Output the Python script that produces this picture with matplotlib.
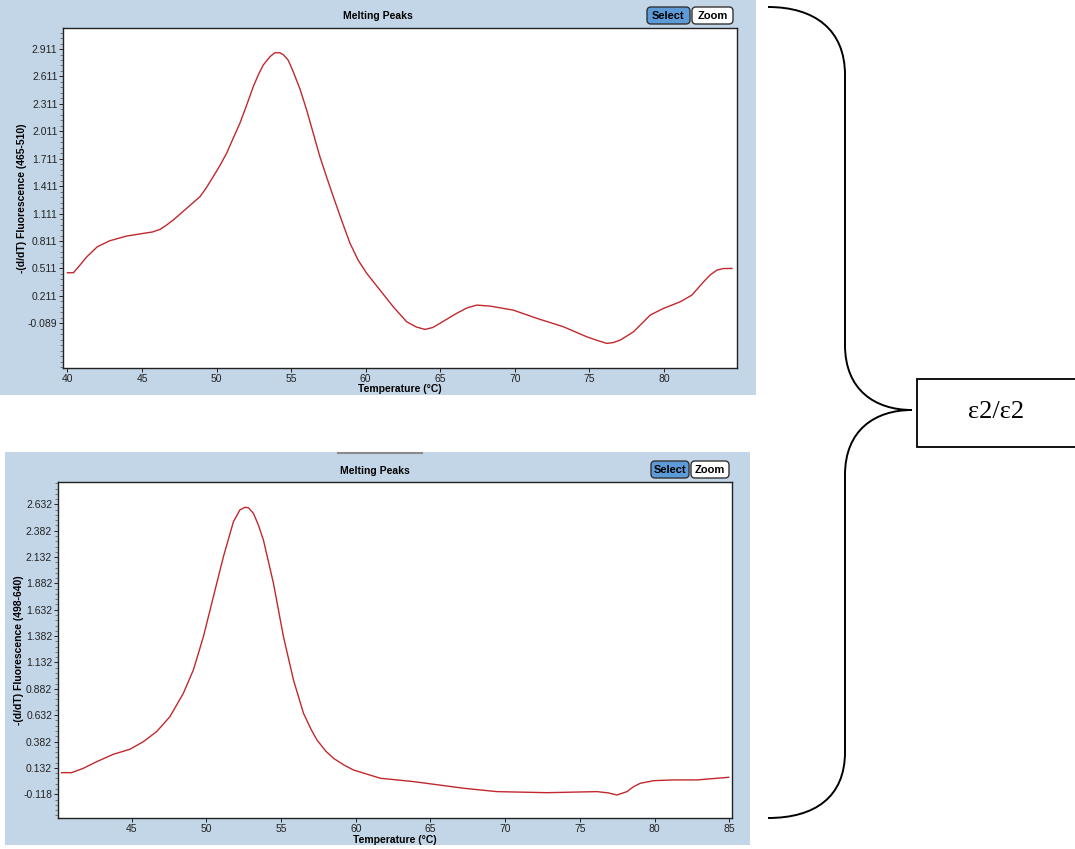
import matplotlib.pyplot as plt
import numpy as np
from matplotlib.patches import Rectangle, FancyBboxPatch, PathPatch
from matplotlib.path import Path
from matplotlib.ticker import FixedLocator, AutoMinorLocator

plt.rcParams['font.family'] = ['Liberation Sans', 'DejaVu Sans']

# top curve: channel 465-510
temp_top = [40.0, 40.4, 40.8, 41.3, 42.0, 42.84, 43.96, 45.07, 45.7, 46.2, 46.6, 47.09,
            47.99, 48.88, 49.3, 49.77, 50.2, 50.67, 51.1, 51.56, 52.0, 52.46, 52.8,
            53.13, 53.58, 53.9, 54.25, 54.5, 54.8, 55.14, 55.6, 56.04, 56.5, 56.93,
            57.4, 57.83, 58.4, 58.95, 59.5, 60.07, 60.96, 61.85, 62.75, 63.4, 63.98,
            64.5, 64.98, 66.1, 66.8, 67.45, 68.34, 69.9, 71.48, 73.26, 74.83, 75.6,
            76.17, 76.6, 77.07, 77.96, 79.08, 79.97, 81.09, 81.88, 82.66, 83.1, 83.56,
            84.0, 84.56]
fluor_top = [0.464, 0.464, 0.54, 0.639, 0.748, 0.814, 0.865, 0.894, 0.91, 0.938, 0.98, 1.04,
             1.168, 1.295, 1.39, 1.514, 1.63, 1.77, 1.93, 2.098, 2.29, 2.499, 2.63,
             2.736, 2.827, 2.87, 2.87, 2.845, 2.79, 2.663, 2.47, 2.244, 1.98, 1.733,
             1.5, 1.295, 1.03, 0.785, 0.6, 0.457, 0.274, 0.091, -0.073, -0.13, -0.156,
             -0.135, -0.089, 0.02, 0.08, 0.11, 0.099, 0.055, -0.035, -0.127, -0.237, -0.28,
             -0.309, -0.3, -0.273, -0.182, 0.001, 0.074, 0.146, 0.22, 0.365, 0.44, 0.493,
             0.51, 0.511]

# bottom curve: channel 498-640
temp_bot = [40.31, 40.98, 41.76, 42.66, 43.77, 44.89, 45.78, 46.67, 47.56, 48.46, 49.13,
            49.8, 50.47, 51.14, 51.81, 52.25, 52.59, 52.81, 53.15, 53.48, 53.82, 54.49,
            55.16, 55.83, 56.5, 57.0, 57.4, 58.0, 58.51, 59.2, 59.85, 61.64, 63.87,
            67.22, 69.45, 72.8, 76.14, 76.9, 77.48, 78.15, 78.6, 79.04, 79.94, 81.28,
            82.84, 84.96]
fluor_bot = [0.087, 0.087, 0.128, 0.191, 0.261, 0.309, 0.381, 0.476, 0.618, 0.84, 1.061,
             1.376, 1.756, 2.135, 2.467, 2.58, 2.604, 2.6, 2.547, 2.436, 2.293, 1.883,
             1.376, 0.966, 0.65, 0.5, 0.397, 0.29, 0.223, 0.16, 0.112, 0.034, 0.002,
             -0.061, -0.093, -0.103, -0.093, -0.105, -0.125, -0.093, -0.045, -0.014, 0.011, 0.018,
             0.018, 0.043]

yticks_top = [-0.089, 0.211, 0.511, 0.811, 1.111, 1.411, 1.711, 2.011, 2.311, 2.611, 2.911]
yticks_bot = [-0.118, 0.132, 0.382, 0.632, 0.882, 1.132, 1.382, 1.632, 1.882, 2.132, 2.382, 2.632]
xticks_top = [40, 45, 50, 55, 60, 65, 70, 75, 80]
xticks_bot = [45, 50, 55, 60, 65, 70, 75, 80, 85]

W, H = 1075, 849
fig = plt.figure(figsize=(W / 100, H / 100), dpi=100)
fig.patch.set_facecolor('white')

panel_blue = '#c3d6e7'
line_red = '#c0282d'


def fr(x0, y0, x1, y1):
    # pixel box (top-left origin) -> figure fraction [l, b, w, h]
    return [x0 / W, (H - y1) / H, (x1 - x0) / W, (y1 - y0) / H]


# overlay axes in pixel coords for panels, buttons, brace
bg = fig.add_axes([0, 0, 1, 1], zorder=0)
bg.set_xlim(0, W)
bg.set_ylim(H, 0)
bg.axis('off')

bg.add_patch(Rectangle((0, 0), 756, 395, facecolor=panel_blue, edgecolor='none'))
bg.add_patch(Rectangle((5, 452), 745, 393, facecolor=panel_blue, edgecolor='none'))
bg.plot([338, 422], [453, 453], color='#8a8a8a', lw=1.5)


def button(x0, y0, x1, y1, label, fill):
    bg.add_patch(FancyBboxPatch((x0, y0), x1 - x0, y1 - y0,
                                boxstyle='round,pad=0,rounding_size=4',
                                facecolor=fill, edgecolor='#333333', lw=1))
    bg.text((x0 + x1) / 2, (y0 + y1) / 2 + 0.5, label, ha='center', va='center',
            fontsize=8, fontweight='bold', color='black')


button(647, 7, 690, 24, 'Select', '#5d9bd8')
button(692, 7, 733, 24, 'Zoom', 'white')
button(651, 461, 689, 478, 'Select', '#5d9bd8')
button(691, 461, 729, 478, 'Zoom', 'white')

bg.text(378, 16, 'Melting Peaks', ha='center', va='center', fontsize=7.5, fontweight='bold')
bg.text(375, 471, 'Melting Peaks', ha='center', va='center', fontsize=7.5, fontweight='bold')

# brace
verts = [(768, 7), (815, 7), (845, 30), (845, 75),
         (845, 345),
         (845, 390), (875, 410), (912, 410),
         (875, 410), (845, 430), (845, 475),
         (845, 752),
         (845, 797), (815, 818), (768, 818)]
codes = [Path.MOVETO, Path.CURVE4, Path.CURVE4, Path.CURVE4,
         Path.LINETO,
         Path.CURVE4, Path.CURVE4, Path.CURVE4,
         Path.CURVE4, Path.CURVE4, Path.CURVE4,
         Path.LINETO,
         Path.CURVE4, Path.CURVE4, Path.CURVE4]
bg.add_patch(PathPatch(Path(verts, codes), facecolor='none', edgecolor='black', lw=1.4))
bg.add_patch(Rectangle((917, 379), 170, 68, facecolor='white', edgecolor='black', lw=1.3))
bg.text(996, 412, 'ε2/ε2', ha='center', va='center', fontsize=19,
        family=['Liberation Serif', 'DejaVu Serif'])


def style_axes(ax, xticks, yticks):
    ax.set_facecolor('white')
    for s in ax.spines.values():
        s.set_color('#222222')
        s.set_linewidth(1)
    ax.xaxis.set_major_locator(FixedLocator(xticks))
    ax.yaxis.set_major_locator(FixedLocator(yticks))
    ax.yaxis.set_minor_locator(AutoMinorLocator(5))
    ax.set_xticklabels([str(t) for t in xticks])
    ax.set_yticklabels([f'{t:.3f}' for t in yticks])
    ax.tick_params(axis='both', labelsize=7.5, length=3, width=0.7, pad=1, colors='#222222')
    ax.tick_params(axis='y', which='minor', length=2, width=0.5, colors='#555555')
    ax.tick_params(axis='x', pad=1)


ax1 = fig.add_axes(fr(63, 28, 737, 368), zorder=2)
ax1.plot(temp_top, fluor_top, color=line_red, lw=1)
ax1.set_xlim(39.7, 84.9)
ax1.set_ylim(-0.578, 3.141)
style_axes(ax1, xticks_top, yticks_top)

ax2 = fig.add_axes(fr(57.7, 482.3, 732.3, 818.3), zorder=2)
ax2.plot(temp_bot, fluor_bot, color=line_red, lw=1)
ax2.set_xlim(40.05, 85.2)
ax2.set_ylim(-0.346, 2.841)
style_axes(ax2, xticks_bot, yticks_bot)

# axis labels placed as in the screenshots
bg.text(400, 389, 'Temperature (°C)', ha='center', va='center', fontsize=7.5, fontweight='bold')
bg.text(395, 840, 'Temperature (°C)', ha='center', va='center', fontsize=7.5, fontweight='bold')
bg.text(22, 198, '-(d/dT) Fluorescence (465-510)', ha='center', va='center', rotation=90,
        fontsize=7.5, fontweight='bold')
bg.text(19, 650, '-(d/dT) Fluorescence (498-640)', ha='center', va='center', rotation=90,
        fontsize=7.5, fontweight='bold')

fig.savefig('out.png', dpi=100)
